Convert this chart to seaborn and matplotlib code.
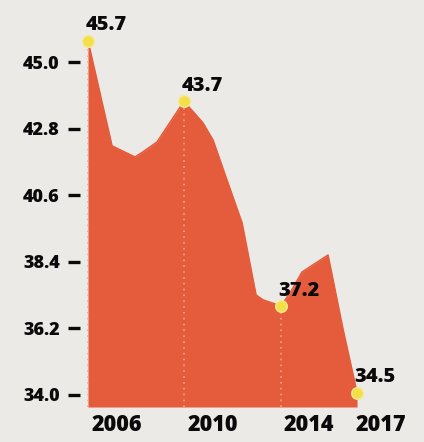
import numpy as np
import pandas as pd
import seaborn as sns
import matplotlib
matplotlib.use('Agg')
import matplotlib.pyplot as plt

# data (fractional years)
years = [2004.79, 2005.79, 2006.75, 2007.08, 2007.67, 2008.79, 2009.58, 2010.0, 2010.58,
         2011.21, 2011.79, 2012.08, 2012.83, 2013.21, 2013.71, 2014.79, 2015.42, 2016.0]
values = [45.7, 42.23, 41.86, 42.03, 42.36, 43.7, 42.99, 42.42, 41.1,
          39.68, 37.3, 37.14, 36.94, 37.37, 38.06, 38.62, 36.15, 34.07]
marked_idx = [0, 5, 12, 17]
marked_labels = ['45.7', '43.7', '37.2', '34.5']
guide_idx = [0, 5, 12]
ytick_vals = [34.0, 36.2, 38.4, 40.6, 42.8, 45.0]
xtick_years = [2006, 2010, 2014, 2017]

df = pd.DataFrame({'year': years, 'value': values})
marks = df.iloc[marked_idx].copy()
marks['label'] = marked_labels

sns.set_theme(style='white')
plt.rcParams['font.family'] = ['Open Sans', 'DejaVu Sans']

bg = '#ECEAE6'
area_col = '#E55C3C'
ink = '#0A0A0A'
fig = plt.figure(figsize=(4.24, 4.42), dpi=100, facecolor=bg)
ax = fig.add_axes([80 / 424, 1 - 407 / 442, 320 / 424, 387 / 442])
ax.set_facecolor(bg)

ymin, ymax = 33.60, 46.39
ax.fill_between(df['year'], df['value'], ymin, color=area_col, lw=0, zorder=1)
sns.lineplot(data=df, x='year', y='value', ax=ax, color=area_col, lw=1.2, zorder=2)

# faint dotted guides inside the area
for i in guide_idx:
    ax.vlines(df['year'][i], ymin, df['value'][i], colors='#F2A486', linestyles=(0, (1, 2.5)),
              lw=1.2, zorder=3)

sns.scatterplot(data=marks, x='year', y='value', ax=ax, s=70, color='#F2DF4A',
                edgecolor='#F6E98A', linewidth=1, zorder=4)
for _, r in marks.iterrows():
    ax.annotate(r['label'], (r['year'], r['value']), xytext=(-2, 7.5), textcoords='offset points',
                ha='left', va='baseline', fontsize=14.5, fontweight=800, color=ink, zorder=5)

ax.set_xlim(2004.458, 2017.79)
ax.set_ylim(ymin, ymax)
ax.set_yticks(ytick_vals)
ax.set_yticklabels([f'{v:.1f}' for v in ytick_vals], fontsize=13, fontweight=800, color=ink)
ax.set_xticks(xtick_years)
ax.set_xticklabels([str(y) for y in xtick_years], fontsize=15.5, fontweight=800, color=ink)
ax.tick_params(axis='y', left=True, direction='out', length=8.5, width=2.4, color=ink, pad=6)
ax.tick_params(axis='x', bottom=False, length=0, pad=4)
ax.set_xlabel('')
ax.set_ylabel('')
for s in ax.spines.values():
    s.set_visible(False)
ax.grid(False)

fig.savefig('out.png', dpi=100, facecolor=bg)
